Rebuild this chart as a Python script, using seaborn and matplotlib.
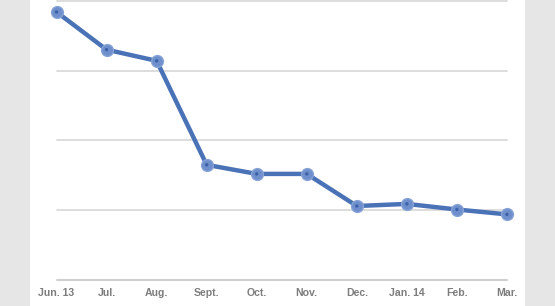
import matplotlib
matplotlib.use("Agg")
import matplotlib.pyplot as plt
from matplotlib.patches import Rectangle
import seaborn as sns
import pandas as pd

months = ["Jun. 13", "Jul.", "Aug.", "Sept.", "Oct.", "Nov.", "Dec.", "Jan. 14", "Feb.", "Mar."]
values = [384, 330, 314, 165, 152, 152, 106, 109, 101, 94]
grid_levels = [100, 200, 300, 400]

df = pd.DataFrame({"pos": range(len(months)), "month": months, "value": values})

sns.set_theme(style="white")
plt.rcParams["font.family"] = ["Liberation Sans", "DejaVu Sans"]

W, H = 555, 306
fig = plt.figure(figsize=(W / 100, H / 100), dpi=100, facecolor="#e6e6e6")
fig.patches.append(Rectangle((30 / W, 0), 495 / W, 1, transform=fig.transFigure,
                             facecolor="white", edgecolor="none", zorder=-10))

ax = fig.add_axes([56.5 / W, 1 - 280 / H, (507 - 56.5) / W, (280 - 0.8) / H])
ax.set_facecolor("none")

for lv in grid_levels:
    ax.axhline(lv, color="#dadada", lw=1.3, zorder=0, clip_on=False)
ax.axhline(0, color="#cfcfcf", lw=1.5, zorder=0, clip_on=False)

sns.lineplot(data=df, x="pos", y="value", ax=ax, color="#4a72b6", lw=3.2,
             marker="o", markersize=8.5, markerfacecolor="#6e8fcc",
             markeredgecolor="#86a2d6", markeredgewidth=1.0, clip_on=False, zorder=3)
sns.scatterplot(data=df, x="pos", y="value", ax=ax, color="#3b62a8", s=6,
                edgecolor="none", clip_on=False, zorder=4)

ax.set_xlim(0, len(months) - 1)
ax.set_ylim(0, 400)
ax.set_xticks(range(len(months)))
ax.set_xticklabels(months, fontsize=7.6, fontweight="bold", color="#7d7d7d")
ax.set_yticks([])
ax.tick_params(axis="x", length=0, pad=6)
ax.set_xlabel("")
ax.set_ylabel("")
for s in ax.spines.values():
    s.set_visible(False)

fig.savefig("out.png", dpi=100, facecolor=fig.get_facecolor())
